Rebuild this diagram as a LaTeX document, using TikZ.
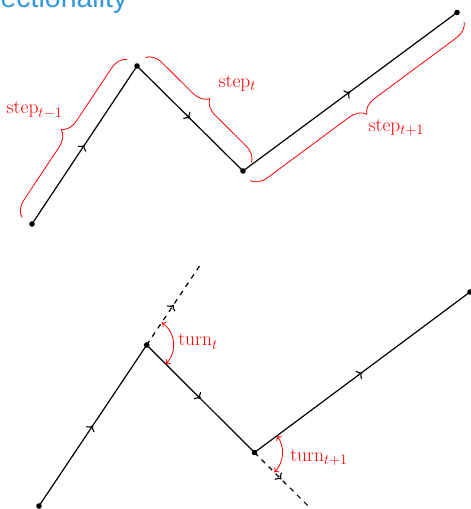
\documentclass[tikz,border=0pt]{standalone}
\usepackage{fontspec}
\newfontfamily\titlefont{Liberation Sans}
\usetikzlibrary{decorations.pathreplacing,decorations.markings,arrows.meta}
\definecolor{titleblue}{RGB}{52,152,219}
\begin{document}
\begin{tikzpicture}[x=1pt,y=1pt,
  seg/.style={line width=1.2pt, postaction={decorate},
    decoration={markings, mark=at position 0.5 with {\arrow[line width=1.1pt]{To[length=5pt,width=10pt]}}}},
  ext/.style={seg, dash pattern=on 5pt off 5pt},
  pt/.style={fill=black},
  curly/.style={red, line width=0.8pt, decorate,
    decoration={brace, amplitude=16pt, raise=12pt}},
  lbl/.style={red, anchor=base, inner sep=0pt, font=\fontsize{19.5}{23}\selectfont},
  turnarc/.style={red, line width=0.8pt, {To[length=4pt,width=7pt]}-{To[length=4pt,width=7pt]}}
]
\useasboundingbox (0,0) rectangle (471,509);
\clip (0,0) rectangle (471,509);

% title (cut off)
\node[anchor=base west, inner sep=0pt, text=titleblue, font=\titlefont\fontsize{28.5}{32}\selectfont]
  (title) at (-36,501) {Directionality};

% ---------- top diagram ----------
\coordinate (A1) at (32,285);
\coordinate (B1) at (137,443);
\coordinate (C1) at (243,338);
\coordinate (D1) at (457,496.5);

\draw[seg] (A1) -- (B1);
\draw[seg] (B1) -- (C1);
\draw[seg] (C1) -- (D1);
\foreach \p in {A1,B1,C1,D1} \fill[pt] (\p) circle (2.8pt);

\draw[curly] (A1) -- (B1);
\draw[curly] (B1) -- (C1);
\draw[curly] (D1) -- (C1);

\node[lbl] (s1) at (34.5,395) {step$_{t-1}$};
\node[lbl] (s2) at (237.3,421.3) {step$_{t}$};
\node[lbl] (s3) at (396.3,377.3) {step$_{t+1}$};

% ---------- bottom diagram ----------
\coordinate (A2) at (39,3);
\coordinate (B2) at (146.7,164);
\coordinate (C2) at (254.5,56.5);
\coordinate (D2) at (470,217);
\coordinate (E2) at (200.5,244.5);
\coordinate (F2) at (308.4,2.75);

\draw[ext] (B2) -- (E2);
\draw[ext] (C2) -- (F2);
\draw[seg] (A2) -- (B2);
\draw[seg] (B2) -- (C2);
\draw[seg] (C2) -- (D2);
\foreach \p in {A2,B2,C2,D2} \fill[pt] (\p) circle (2.8pt);

\draw[turnarc] ([shift={(56.31:27)}]B2) arc[start angle=56.31, end angle=-45, radius=27];
\draw[turnarc] ([shift={(36.87:28)}]C2) arc[start angle=36.87, end angle=-45, radius=28];

\node[lbl] (t1) at (198,163) {turn$_{t}$};
\node[lbl] (t2) at (319,47.3) {turn$_{t+1}$};
\end{tikzpicture}
\end{document}
